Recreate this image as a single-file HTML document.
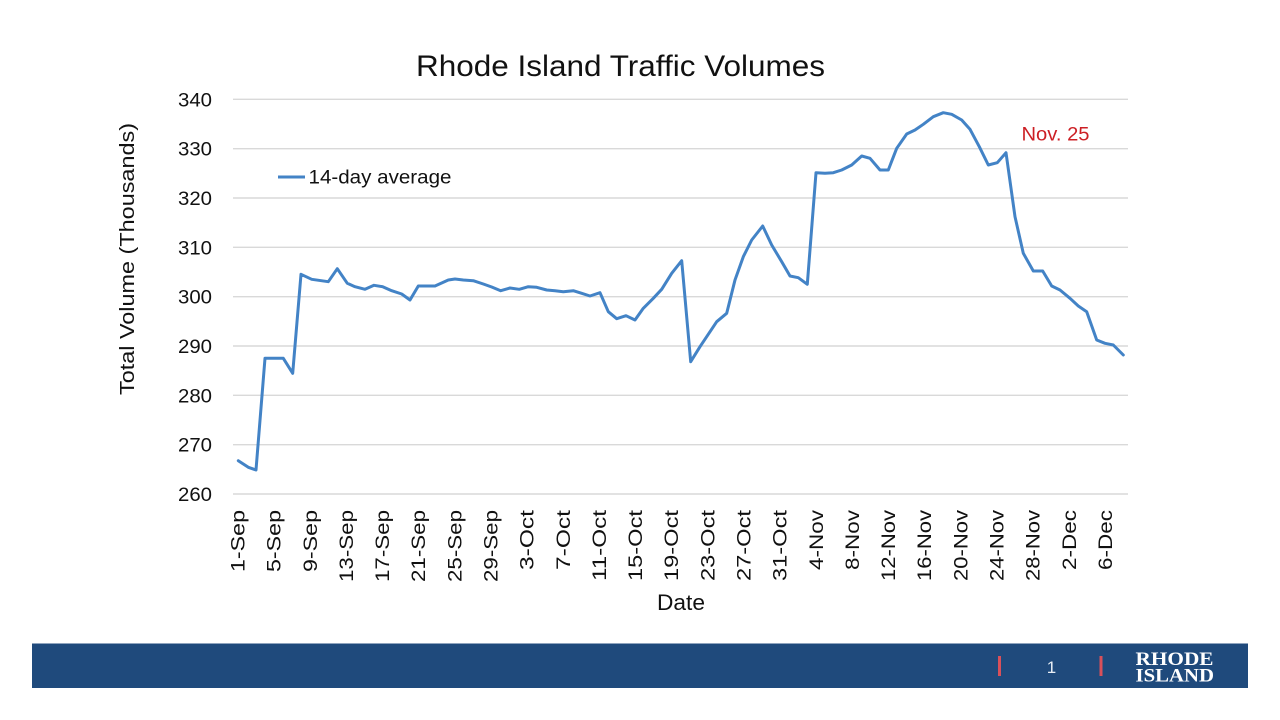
<!DOCTYPE html>
<html><head><meta charset="utf-8"><style>
html,body{margin:0;padding:0;background:#fff;}
svg{display:block;}
text{font-family:"Liberation Sans",sans-serif;}
</style></head><body>
<svg width="1280" height="720" viewBox="0 0 1280 720" xmlns="http://www.w3.org/2000/svg">
<rect width="1280" height="720" fill="#fff"/>
<text x="416" y="76" font-size="30" fill="#111" textLength="409" lengthAdjust="spacingAndGlyphs">Rhode Island Traffic Volumes</text>
<g stroke="#d9d9d9" stroke-width="1.4">
<line x1="233" y1="99.3" x2="1128" y2="99.3"/>
<line x1="233" y1="148.7" x2="1128" y2="148.7"/>
<line x1="233" y1="198" x2="1128" y2="198"/>
<line x1="233" y1="247.3" x2="1128" y2="247.3"/>
<line x1="233" y1="296.7" x2="1128" y2="296.7"/>
<line x1="233" y1="346" x2="1128" y2="346"/>
<line x1="233" y1="395.3" x2="1128" y2="395.3"/>
<line x1="233" y1="444.7" x2="1128" y2="444.7"/>
<line x1="233" y1="494" x2="1128" y2="494"/>
</g>
<g font-size="19" fill="#111" text-anchor="end">
<text x="212" y="106.3" textLength="34" lengthAdjust="spacingAndGlyphs">340</text>
<text x="212" y="155.7" textLength="34" lengthAdjust="spacingAndGlyphs">330</text>
<text x="212" y="205" textLength="34" lengthAdjust="spacingAndGlyphs">320</text>
<text x="212" y="254.3" textLength="34" lengthAdjust="spacingAndGlyphs">310</text>
<text x="212" y="303.7" textLength="34" lengthAdjust="spacingAndGlyphs">300</text>
<text x="212" y="353" textLength="34" lengthAdjust="spacingAndGlyphs">290</text>
<text x="212" y="402.3" textLength="34" lengthAdjust="spacingAndGlyphs">280</text>
<text x="212" y="451.7" textLength="34" lengthAdjust="spacingAndGlyphs">270</text>
<text x="212" y="501" textLength="34" lengthAdjust="spacingAndGlyphs">260</text>
</g>
<text transform="translate(134,259) rotate(-90)" font-size="20" fill="#111" text-anchor="middle" textLength="272" lengthAdjust="spacingAndGlyphs">Total Volume (Thousands)</text>
<g font-size="19" fill="#111" text-anchor="end">
<text transform="translate(244.5,510) rotate(-90)" textLength="62" lengthAdjust="spacingAndGlyphs">1-Sep</text>
<text transform="translate(280.6,510) rotate(-90)" textLength="62" lengthAdjust="spacingAndGlyphs">5-Sep</text>
<text transform="translate(316.8,510) rotate(-90)" textLength="62" lengthAdjust="spacingAndGlyphs">9-Sep</text>
<text transform="translate(352.9,510) rotate(-90)" textLength="72" lengthAdjust="spacingAndGlyphs">13-Sep</text>
<text transform="translate(389.1,510) rotate(-90)" textLength="72" lengthAdjust="spacingAndGlyphs">17-Sep</text>
<text transform="translate(425.2,510) rotate(-90)" textLength="72" lengthAdjust="spacingAndGlyphs">21-Sep</text>
<text transform="translate(461.4,510) rotate(-90)" textLength="72" lengthAdjust="spacingAndGlyphs">25-Sep</text>
<text transform="translate(497.5,510) rotate(-90)" textLength="72" lengthAdjust="spacingAndGlyphs">29-Sep</text>
<text transform="translate(533.6,510) rotate(-90)" textLength="60" lengthAdjust="spacingAndGlyphs">3-Oct</text>
<text transform="translate(569.8,510) rotate(-90)" textLength="60" lengthAdjust="spacingAndGlyphs">7-Oct</text>
<text transform="translate(605.9,510) rotate(-90)" textLength="71" lengthAdjust="spacingAndGlyphs">11-Oct</text>
<text transform="translate(642.1,510) rotate(-90)" textLength="71" lengthAdjust="spacingAndGlyphs">15-Oct</text>
<text transform="translate(678.2,510) rotate(-90)" textLength="71" lengthAdjust="spacingAndGlyphs">19-Oct</text>
<text transform="translate(714.4,510) rotate(-90)" textLength="71" lengthAdjust="spacingAndGlyphs">23-Oct</text>
<text transform="translate(750.5,510) rotate(-90)" textLength="71" lengthAdjust="spacingAndGlyphs">27-Oct</text>
<text transform="translate(786.6,510) rotate(-90)" textLength="71" lengthAdjust="spacingAndGlyphs">31-Oct</text>
<text transform="translate(822.8,510) rotate(-90)" textLength="60" lengthAdjust="spacingAndGlyphs">4-Nov</text>
<text transform="translate(858.9,510) rotate(-90)" textLength="60" lengthAdjust="spacingAndGlyphs">8-Nov</text>
<text transform="translate(895.1,510) rotate(-90)" textLength="71" lengthAdjust="spacingAndGlyphs">12-Nov</text>
<text transform="translate(931.2,510) rotate(-90)" textLength="71" lengthAdjust="spacingAndGlyphs">16-Nov</text>
<text transform="translate(967.4,510) rotate(-90)" textLength="71" lengthAdjust="spacingAndGlyphs">20-Nov</text>
<text transform="translate(1003.5,510) rotate(-90)" textLength="71" lengthAdjust="spacingAndGlyphs">24-Nov</text>
<text transform="translate(1039.6,510) rotate(-90)" textLength="71" lengthAdjust="spacingAndGlyphs">28-Nov</text>
<text transform="translate(1075.8,510) rotate(-90)" textLength="60" lengthAdjust="spacingAndGlyphs">2-Dec</text>
<text transform="translate(1111.9,510) rotate(-90)" textLength="60" lengthAdjust="spacingAndGlyphs">6-Dec</text>
</g>
<text x="657" y="610" font-size="22" fill="#111" textLength="48" lengthAdjust="spacingAndGlyphs">Date</text>
<line x1="278" y1="177" x2="305" y2="177" stroke="#4383c6" stroke-width="3"/>
<text x="308.5" y="183.5" font-size="19" fill="#111" textLength="143" lengthAdjust="spacingAndGlyphs">14-day average</text>
<text x="1021.5" y="140.7" font-size="19.5" fill="#cc1f24" textLength="68" lengthAdjust="spacingAndGlyphs">Nov. 25</text>
<polyline fill="none" stroke="#4383c6" stroke-width="3" stroke-linejoin="round" stroke-linecap="round" points="238.3,460.7 248.3,467.3 256,470 265,358.3 283.3,358.3 292.7,373.3 301,274.3 311.7,279.3 328.3,281.7 337.3,268.7 347.3,283.3 355,286.7 365,289.3 374,285.3 382.7,286.7 391.7,290.7 401.7,294 410,300 418.3,286 435,286 448.3,280 455,279 463.3,280 473.3,280.7 483.3,284 491.7,287 500.7,290.7 510,288 519.3,289.3 528.3,286.7 536.7,287.3 546.7,290 555,290.7 563.3,291.7 573.3,290.7 581.7,293.3 590,296 600,292.7 608.3,311.7 616.7,318.7 626,315.7 635,320 643.3,308.3 653.3,298.3 661.7,289.3 671.7,273.3 681.7,260.7 690.7,361.7 700,346.7 716.7,321.7 726.7,313.3 735,280 743.3,256.7 751.7,240 762.7,226 771.7,245 781.7,261.7 790,276 798.3,277.7 807.3,284.3 816,172.7 825,173.3 833.3,172.7 841.7,170 851.7,165 861.7,156 870,158.3 880,170 888.3,170 896.7,148.3 906.7,134 915,130 923.3,124.3 933.3,116.7 943.3,112.7 951.7,114.3 961.7,120 970,129.3 979.3,146.7 988.3,165 997.3,162.7 1006,152.7 1015,216.7 1023.3,253.3 1033.3,271 1042.7,271 1051.7,286 1060,290 1070,298.3 1078.3,306 1086.7,311.7 1096.7,340 1105,343.3 1113.3,345 1123.3,355"/>
<rect x="32" y="643.5" width="1216" height="44.5" fill="#1f4a7c"/>
<rect x="998" y="656" width="3" height="20" fill="#d9505a"/>
<rect x="1099.5" y="656" width="3" height="20" fill="#d9505a"/>
<text x="1051.5" y="673" font-size="17" fill="#e8eef5" text-anchor="middle">1</text>
<text x="1135.5" y="665" font-family="Liberation Serif, serif" font-weight="bold" font-size="19" fill="#fff" textLength="78" lengthAdjust="spacingAndGlyphs" style="font-family:'Liberation Serif',serif">RHODE</text>
<text x="1135.5" y="681.5" font-family="Liberation Serif, serif" font-weight="bold" font-size="19" fill="#fff" textLength="78.5" lengthAdjust="spacingAndGlyphs" style="font-family:'Liberation Serif',serif">ISLAND</text>
</svg>
</body></html>
